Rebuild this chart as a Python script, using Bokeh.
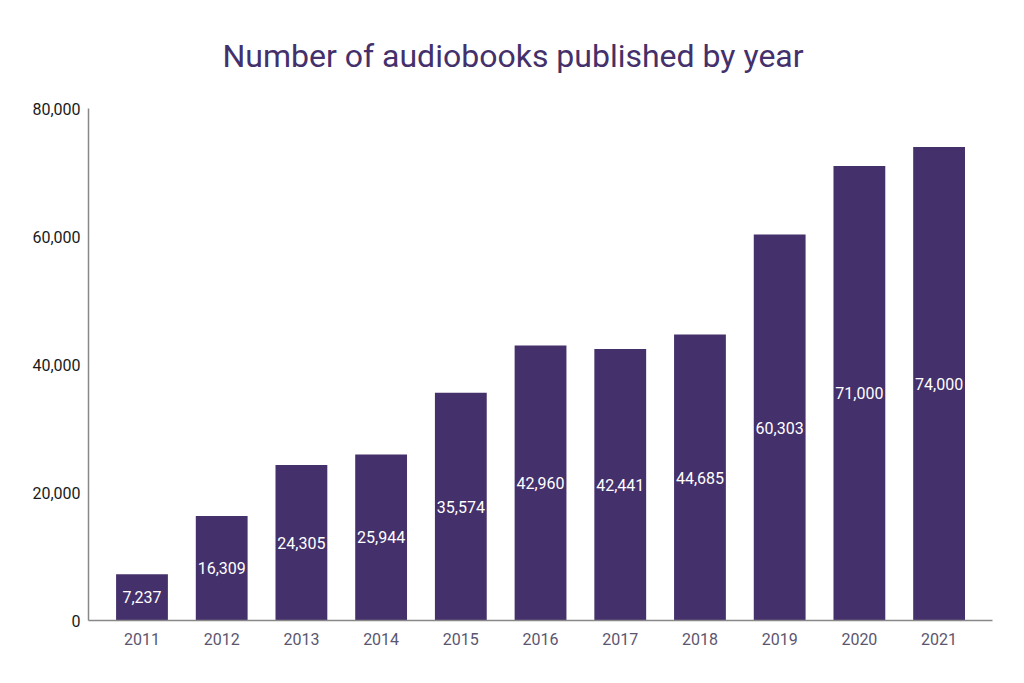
from bokeh.plotting import figure
from bokeh.models import Range1d, FixedTicker, NumeralTickFormatter, ColumnDataSource
from bokeh.core.properties import value
from bokeh.embed import file_html
from bokeh.resources import INLINE

years = ["2011", "2012", "2013", "2014", "2015", "2016", "2017", "2018", "2019", "2020", "2021"]
counts = [7237, 16309, 24305, 25944, 35574, 42960, 42441, 44685, 60303, 71000, 74000]
y_ticks = [0, 20000, 40000, 60000, 80000]

BAR = "#44306b"
FONT = "Roboto"

xs = list(range(len(years)))
src = ColumnDataSource(dict(
    x=xs,
    top=counts,
    mid=[c / 2 for c in counts],
    label=[f"{c:,}" for c in counts],
))

p = figure(
    width=1016, height=675,
    frame_width=904, frame_height=512,
    min_border_left=88, min_border_right=24, min_border_top=108, min_border_bottom=55,
    x_range=Range1d(-0.671, 10.67), y_range=Range1d(0, 80000),
    output_backend="svg", toolbar_location=None, tools="",
)
p.title.text = "Number of audiobooks published by year"
p.title.text_font = FONT
p.title.text_font_size = "32px"
p.title.text_font_style = "normal"
p.title.text_color = BAR
p.title.align = "left"
p.title.offset = 134
p.title.standoff = 67

p.vbar(x="x", top="top", width=0.65, source=src, fill_color=BAR, line_color=None)
p.text(x="x", y="mid", text="label", source=src, text_color="white",
       text_font=value(FONT), text_font_size="16px", text_align="center", text_baseline="middle")

p.outline_line_color = None
p.xgrid.grid_line_color = None
p.ygrid.grid_line_color = None
p.background_fill_color = "white"
p.border_fill_color = "white"

xa = p.xaxis[0]
xa.ticker = FixedTicker(ticks=xs)
xa.major_label_overrides = {i: y for i, y in enumerate(years)}
xa.major_tick_line_color = None
xa.minor_tick_line_color = None
xa.major_tick_out = 0
xa.major_tick_in = 0
xa.axis_line_color = "#888888"
xa.axis_line_width = 1.5
xa.major_label_text_font = FONT
xa.major_label_text_font_size = "16px"
xa.major_label_text_color = "#5b5670"
xa.major_label_standoff = 12

ya = p.yaxis[0]
ya.ticker = FixedTicker(ticks=y_ticks)
ya.formatter = NumeralTickFormatter(format="0,0")
ya.major_tick_line_color = None
ya.minor_tick_line_color = None
ya.major_tick_out = 0
ya.major_tick_in = 0
ya.axis_line_color = "#888888"
ya.axis_line_width = 1.5
ya.major_label_text_font = FONT
ya.major_label_text_font_size = "16px"
ya.major_label_text_color = "#1a1a1a"
ya.major_label_standoff = 8

open("out.html", "w").write(file_html(p, INLINE))
